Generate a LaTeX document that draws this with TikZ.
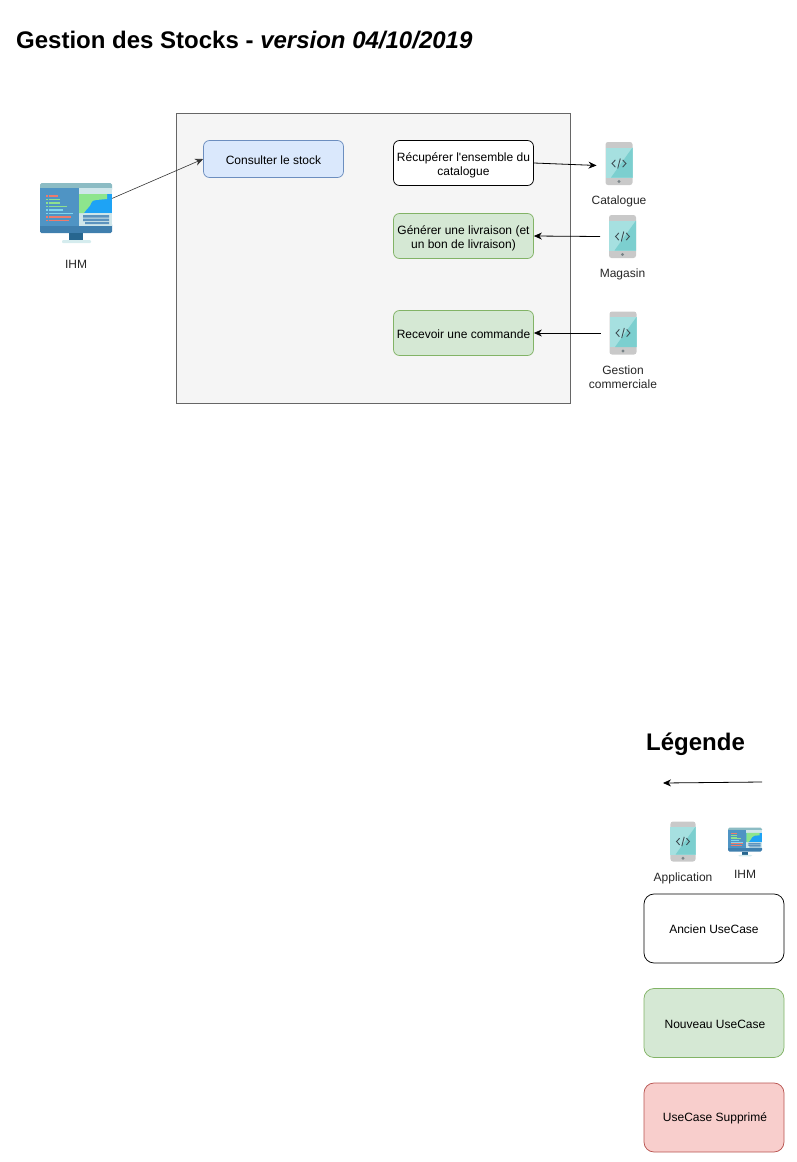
\documentclass[tikz,border=0pt]{standalone}
\usepackage{fontspec}
\setmainfont{Liberation Sans}
\newfontfamily\plainf{Liberation Sans}
\usetikzlibrary{arrows.meta}
\newcommand{\lowerA}{\rule{0pt}{10.6pt}}
\newcommand{\lowerB}{\rule{0pt}{14pt}}
\definecolor{frameF}{HTML}{F5F5F5}
\definecolor{frameD}{HTML}{666666}
\definecolor{blueF}{HTML}{DAE8FC}
\definecolor{blueD}{HTML}{6C8EBF}
\definecolor{greenF}{HTML}{D5E8D4}
\definecolor{greenD}{HTML}{82B366}
\definecolor{redF}{HTML}{F8CECC}
\definecolor{redD}{HTML}{B85450}
\definecolor{phG}{HTML}{C9C9C9}
\definecolor{phL}{HTML}{A6E0E0}
\definecolor{phD}{HTML}{7CCFCF}
\definecolor{phT}{HTML}{3F4F55}
\definecolor{mTop}{HTML}{8CBCC4}
\definecolor{mBody}{HTML}{4F94C4}
\definecolor{mBot}{HTML}{3F7FAE}
\definecolor{mStand}{HTML}{27668F}
\definecolor{mBase}{HTML}{D5ECEE}
\definecolor{mSky}{HTML}{1EA3F5}
\definecolor{mLand}{HTML}{8DE58D}
\definecolor{mPale}{HTML}{CFE6EA}
\definecolor{mLine}{HTML}{5C93BE}
\definecolor{cR}{HTML}{EE7B6B}
\definecolor{cG}{HTML}{8FE08F}
\definecolor{cB}{HTML}{7FD6EE}
\tikzset{
  uc/.style={draw,line width=.75pt,rounded corners=6pt,font=\fontsize{12}{14}\selectfont,align=center,inner sep=0pt,text=black},
  ucOld/.style={uc,fill=white,draw=black},
  ucBlue/.style={uc,fill=blueF,draw=blueD},
  ucGreen/.style={uc,fill=greenF,draw=greenD},
  ucRed/.style={uc,fill=redF,draw=redD},
  lab/.style={font=\fontsize{12}{14}\selectfont,align=center,text=black!85,inner sep=0pt},
  head/.style={font=\bfseries\fontsize{24}{28}\selectfont,anchor=base west,inner sep=0pt},
  iconbox/.style={minimum width=45pt,minimum height=45pt,inner sep=0pt,outer sep=0pt},
  monbox/.style={minimum width=72pt,minimum height=60pt,inner sep=0pt,outer sep=0pt},
  link/.style={-{Stealth[length=8pt,width=7pt]},draw=black!80,line width=.6pt},
  linkdark/.style={-{Stealth[length=8pt,width=7pt]},draw=black,line width=.8pt},
  pics/phone/.style={code={
    \fill[phG,rounded corners=2.5pt] (-13.5,-21.5) rectangle (13.5,21.5);
    \fill[phL] (-13.5,-16) rectangle (13.5,14);
    \fill[phD] (13.5,-16) -- (13.5,14) -- (-8,14) -- cycle;
    \fill[phT!70] (0,18) circle (1.7);
    \draw[phT,line width=.9pt] (-3.6,-3.6) -- (-7,0) -- (-3.6,3.6) (3.6,-3.6) -- (7,0) -- (3.6,3.6) (1.3,-5) -- (-1.3,5);
  }},
  pics/monitor/.style={code={
    \fill[mTop,rounded corners=1.5pt] (-36,-30) rectangle (36,-22);
    \fill[mBody] (-36,-25) rectangle (36,13);
    \fill[mBot,rounded corners=1.5pt] (-36,10) rectangle (36,20);
    \fill[mBody] (-36,10) rectangle (36,13);
    \fill[mStand] (-7,20) rectangle (7,27);
    \fill[mBase,rounded corners=1pt] (-14,27) rectangle (15,30);
    \fill[mPale] (3,-25) rectangle (36,13);
    \fill[mSky] (3,-19) rectangle (36,0);
    \fill[mLand] (3,-19) -- (31,-19) -- (31,-14) -- (20,-13) .. controls (14,-13) and (16,-8) .. (12,-5) .. controls (9,-2) and (9,-1) .. (8,0) -- (3,0) -- cycle;
    \fill[mLine] (7,2) rectangle (33,4.5) (7,5.5) rectangle (33,8) (9,9) rectangle (33,11);
    \foreach \yy/\aa/\ee in {-18/cR/-17.7, -14.5/cG/-16, -11/cG/-16, -7.5/cG/-8.7, -4/cB/-12.7, -.5/cB/-3.3, 3/cR/-5.3, 6.5/cR/-6.7}{
      \fill[\aa] (-30,\yy) rectangle ++(1.8,1.8);
      \fill[\aa] (-27,\yy) rectangle (\ee,\yy+1.8);
    }
  }}
}
\begin{document}
\begin{tikzpicture}[x=1pt,y=-1pt]
\useasboundingbox (0,0) rectangle (797,1162);
\node[head] (title) at (16,48) {Gestion des Stocks - \itshape version 04/10/2019};
\node[draw=frameD,fill=frameF,line width=.75pt,minimum width=394pt,minimum height=290pt,inner sep=0pt,anchor=north west] (frame) at (176,113) {};

\node[ucBlue,minimum width=140pt,minimum height=37pt] (consult) at (273.5,159) {\lowerA Consulter le stock};
\node[ucOld,minimum width=140pt,minimum height=45pt] (recup) at (463.5,163) {\lowerB Récupérer l{\plainf'}ensemble du\\catalogue};
\node[ucGreen,minimum width=140pt,minimum height=45pt] (gen) at (463.5,236) {\lowerB Générer une livraison (et\\un bon de livraison)};
\node[ucGreen,minimum width=140pt,minimum height=45pt] (recv) at (463.5,333) {\lowerA Recevoir une commande};

\node[monbox] (ihm) at (76,213) {};
\pic at (ihm.center) {monitor};
\node[lab] (ihmL) at (76,264) {IHM};
\node[iconbox] (cat) at (619,163.5) {};
\pic at (cat.center) {phone};
\node[lab] (catL) at (619,201) {Catalogue};
\node[iconbox] (mag) at (622.5,236.5) {};
\pic at (mag.center) {phone};
\node[lab] (magL) at (622.5,274) {Magasin};
\node[iconbox] (gc) at (623,333) {};
\pic at (gc.center) {phone};
\node[lab] (gcL) at (623,377) {Gestion\\commerciale};

\draw[link] (ihm.22) -- (consult.west);
\draw[linkdark] (recup.east) -- (cat.185);
\draw[linkdark] (mag.west) -- (gen.east);
\draw[linkdark] (gc.west) -- (recv.east);

\node[head] (leg) at (646,750) {Légende};
\coordinate (legA) at (762,782);
\coordinate (legB) at (663,783);
\draw[linkdark] (legA) -- (legB);
\node[minimum width=26pt,minimum height=40pt,inner sep=0pt] (legP) at (683,841.5) {};
\pic[scale=.93] at (legP.center) {phone};
\node[lab] (legPL) at (683,878) {Application};
\node[minimum width=34pt,minimum height=29pt,inner sep=0pt] (legM) at (745,842) {};
\pic[xscale=.472,yscale=.48] at (legM.center) {monitor};
\node[lab] (legML) at (745,874) {IHM};
\node[ucOld,rounded corners=10pt,minimum width=140pt,minimum height=69pt] (l1) at (714,928.5) {\lowerA Ancien UseCase};
\node[ucGreen,rounded corners=10pt,minimum width=140pt,minimum height=69pt] (l2) at (714,1023) {\lowerA\hspace{2pt}Nouveau UseCase};
\node[ucRed,rounded corners=10pt,minimum width=140pt,minimum height=69pt] (l3) at (714,1117.5) {\lowerA\hspace{2pt}UseCase Supprimé};
\end{tikzpicture}
\end{document}
